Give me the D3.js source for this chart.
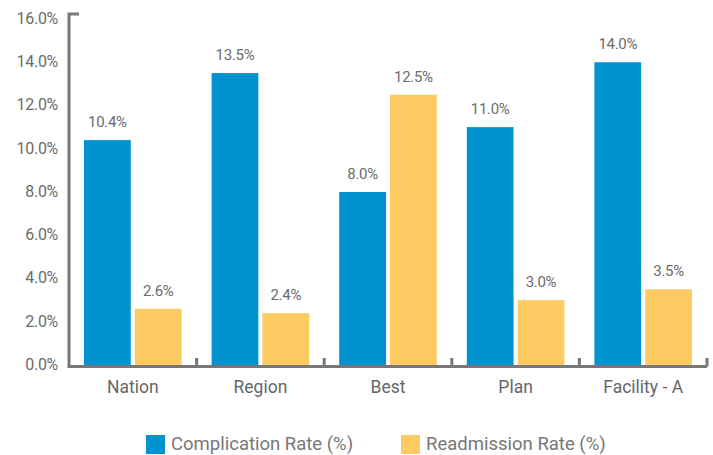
<!DOCTYPE html>
<html lang="en">
  <head>
    <meta charset="utf-8">
    <title>rates</title>
    <script src="https://cdn.jsdelivr.net/npm/d3@7"></script>
    <style type="text/css">
      body { margin: 0; background: #fff; }
      .tick text, .valueLabel { font-family: Roboto, sans-serif; fill: #6b6b6b; letter-spacing: -0.3px; }
      .catLabel { font-family: Roboto, sans-serif; fill: #666; font-size: 17.5px; }
      .legendText { font-family: Roboto, sans-serif; fill: #777; font-size: 18.5px; }
    </style>
  </head>
  <body>
    <svg id="chart" width="713" height="455"></svg>
    <script type="text/javascript">
      var categories = ["Nation", "Region", "Best", "Plan", "Facility - A"];
      var seriesNames = ["Complication Rate (%)", "Readmission Rate (%)"];
      var complication = [10.4, 13.5, 8.0, 11.0, 14.0];
      var readmission = [2.6, 2.4, 12.5, 3.0, 3.5];
      var yTicks = [0, 2, 4, 6, 8, 10, 12, 14, 16];
      var colors = ["#0093d0", "#fdcb62"];

      var svg = d3.select("#chart"),
        left = 69, right = 707, zeroY = 365, topY = 19;

      var x = d3.scaleBand().domain(categories).range([left, right]);
      var inner = d3.scaleBand().domain(seriesNames)
        .range([15, x.bandwidth() - 15]).paddingInner(0.08);
      var y = d3.scaleLinear().domain([0, 16]).range([zeroY, topY]);

      var rows = categories.map(function(c, i) {
        return {cat: c, vals: [complication[i], readmission[i]]};
      });

      // bars
      var groups = svg.selectAll(".grp")
        .data(rows)
        .enter().append("g")
          .attr("class", "grp")
          .attr("transform", function(d) { return "translate(" + x(d.cat) + ",0)"; });

      groups.selectAll("rect")
        .data(function(d) { return d.vals.map(function(v, k) { return {k: k, v: v}; }); })
        .enter().append("rect")
          .attr("x", function(d) { return inner(seriesNames[d.k]); })
          .attr("width", inner.bandwidth())
          .attr("y", function(d) { return y(d.v); })
          .attr("height", function(d) { return zeroY - y(d.v); })
          .attr("fill", function(d) { return colors[d.k]; });

      groups.selectAll(".valueLabel")
        .data(function(d) { return d.vals.map(function(v, k) { return {k: k, v: v}; }); })
        .enter().append("text")
          .attr("class", "valueLabel")
          .attr("x", function(d) { return inner(seriesNames[d.k]) + inner.bandwidth() / 2; })
          .attr("y", function(d) { return y(d.v) - 13; })
          .attr("text-anchor", "middle")
          .style("font-size", "15px")
          .text(function(d) { return d.v.toFixed(1) + "%"; });

      // y axis
      var yAxis = d3.axisLeft(y).tickValues(yTicks).tickSize(0).tickPadding(11)
        .tickFormat(function(d) { return d.toFixed(1) + "%"; });
      var ga = svg.append("g").attr("transform", "translate(" + left + ",0)").call(yAxis);
      ga.select(".domain").remove();
      ga.selectAll(".tick text").style("font-size", "16px").attr("dy", "0.28em");

      svg.append("path")
        .attr("d", "M" + (left + 10) + ",14H" + left + "V" + (zeroY + 1.5) + "H" + right)
        .attr("fill", "none")
        .attr("stroke", "#777")
        .attr("stroke-width", 3);

      // x axis ticks at band edges
      svg.selectAll(".xtick")
        .data(categories)
        .enter().append("line")
          .attr("x1", function(d) { return x(d) + x.bandwidth(); })
          .attr("x2", function(d) { return x(d) + x.bandwidth(); })
          .attr("y1", zeroY - 7)
          .attr("y2", zeroY + 1.5)
          .attr("stroke", "#777")
          .attr("stroke-width", 3);

      svg.selectAll(".catLabel")
        .data(categories)
        .enter().append("text")
          .attr("class", "catLabel")
          .attr("x", function(d) { return x(d) + x.bandwidth() / 2; })
          .attr("y", 393)
          .attr("text-anchor", "middle")
          .text(function(d) { return d; });

      // legend
      var legendX = [146, 401];
      var lg = svg.selectAll(".legend")
        .data(seriesNames)
        .enter().append("g")
          .attr("transform", function(d, i) { return "translate(" + legendX[i] + ",435)"; });
      lg.append("rect")
        .attr("width", 19).attr("height", 19)
        .attr("fill", function(d, i) { return colors[i]; });
      lg.append("text")
        .attr("class", "legendText")
        .attr("x", 25)
        .attr("y", 15)
        .text(function(d) { return d; });
    </script>
  </body>
</html>
